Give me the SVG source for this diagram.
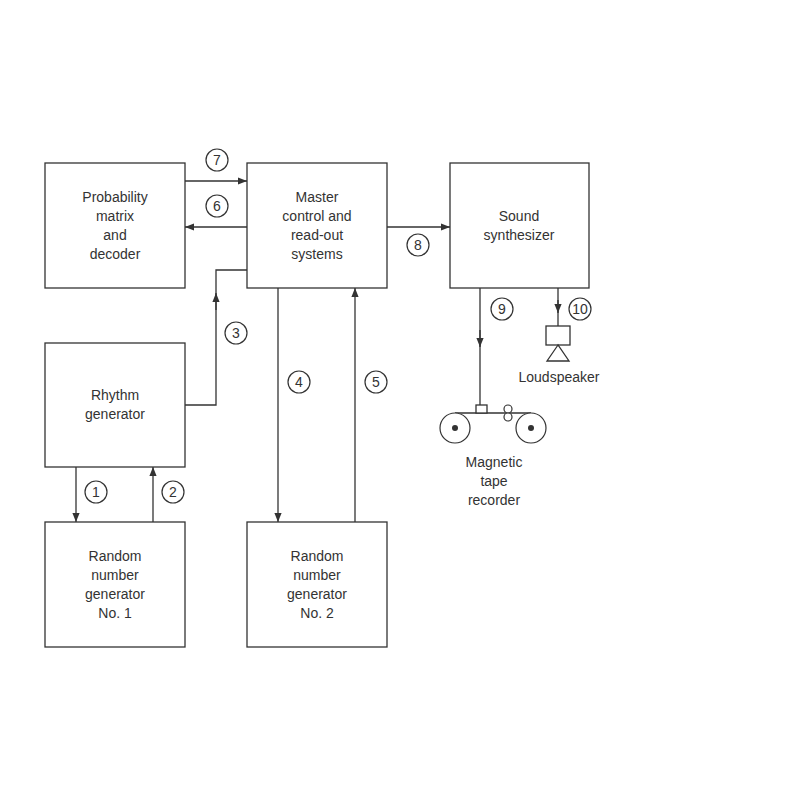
<svg xmlns="http://www.w3.org/2000/svg" width="800" height="800" viewBox="0 0 800 800">
<style>
.b{fill:#fff;stroke:#333;stroke-width:1.3}
.t{font-family:"Liberation Sans",Arial,sans-serif;font-size:14px;fill:#333;text-anchor:middle}
.c{fill:#fff;stroke:#333;stroke-width:1.2}
.l{fill:none;stroke:#333;stroke-width:1.3}
</style>
<defs><marker id="a" viewBox="0 0 10 10" refX="10" refY="5" markerWidth="7" markerHeight="7" orient="auto"><path d="M0,1 L10,5 L0,9z" fill="#333"/></marker></defs>
<rect width="800" height="800" fill="#fff"/>
<g id="prob"><rect class="b" x="45" y="163" width="140" height="125"/><text class="t" x="115" y="202">Probability</text><text class="t" x="115" y="221">matrix</text><text class="t" x="115" y="240">and</text><text class="t" x="115" y="259">decoder</text></g>
<g id="master"><rect class="b" x="247" y="163" width="140" height="125"/><text class="t" x="317" y="202">Master</text><text class="t" x="317" y="221">control and</text><text class="t" x="317" y="240">read-out</text><text class="t" x="317" y="259">systems</text></g>
<g id="synth"><rect class="b" x="450" y="163" width="139" height="125"/><text class="t" x="519" y="221">Sound</text><text class="t" x="519" y="240">synthesizer</text></g>
<g id="rhythm"><rect class="b" x="45" y="343" width="140" height="124"/><text class="t" x="115" y="400">Rhythm</text><text class="t" x="115" y="419">generator</text></g>
<g id="rng1"><rect class="b" x="45" y="522" width="140" height="125"/><text class="t" x="115" y="561">Random</text><text class="t" x="115" y="580">number</text><text class="t" x="115" y="599">generator</text><text class="t" x="115" y="618">No. 1</text></g>
<g id="rng2"><rect class="b" x="247" y="522" width="140" height="125"/><text class="t" x="317" y="561">Random</text><text class="t" x="317" y="580">number</text><text class="t" x="317" y="599">generator</text><text class="t" x="317" y="618">No. 2</text></g>
<g id="tape"><line class="l" x1="455" y1="413" x2="531" y2="413"/><rect class="b" x="476" y="405" width="11" height="8"/><circle class="c" cx="508" cy="409" r="4"/><circle class="c" cx="508" cy="417" r="4"/><circle class="c" cx="455" cy="428" r="15"/><circle cx="455" cy="428" r="3" fill="#333"/><circle class="c" cx="531" cy="428" r="15"/><circle cx="531" cy="428" r="3" fill="#333"/><text class="t" x="494" y="467">Magnetic</text><text class="t" x="494" y="486">tape</text><text class="t" x="494" y="505">recorder</text></g>
<g id="speaker"><rect class="b" x="546" y="326" width="24" height="19"/><path class="b" d="M558,345 L547,361 L569,361z"/><text class="t" x="559" y="382">Loudspeaker</text></g>
<g id="connectors">
<line class="l" x1="185" y1="181" x2="247" y2="181" marker-end="url(#a)"/>
<line class="l" x1="247" y1="227" x2="185" y2="227" marker-end="url(#a)"/>
<line class="l" x1="387" y1="227" x2="450" y2="227" marker-end="url(#a)"/>
<path class="l" d="M185,405 H216 V270 H247"/><line class="l" x1="216" y1="310" x2="216" y2="293" marker-end="url(#a)"/>
<line class="l" x1="278" y1="288" x2="278" y2="522" marker-end="url(#a)"/>
<line class="l" x1="355" y1="522" x2="355" y2="288" marker-end="url(#a)"/>
<line class="l" x1="76" y1="467" x2="76" y2="522" marker-end="url(#a)"/>
<line class="l" x1="153" y1="522" x2="153" y2="467" marker-end="url(#a)"/>
<line class="l" x1="480" y1="288" x2="480" y2="405"/><line class="l" x1="480" y1="330" x2="480" y2="347" marker-end="url(#a)"/>
<line class="l" x1="558" y1="288" x2="558" y2="326"/><line class="l" x1="558" y1="300" x2="558" y2="313" marker-end="url(#a)"/>
<circle class="c" cx="217" cy="160" r="11"/><text class="t" x="217" y="165">7</text>
<circle class="c" cx="217" cy="206" r="11"/><text class="t" x="217" y="211">6</text>
<circle class="c" cx="418" cy="245" r="11"/><text class="t" x="418" y="250">8</text>
<circle class="c" cx="236" cy="333" r="11"/><text class="t" x="236" y="338">3</text>
<circle class="c" cx="299" cy="382" r="11"/><text class="t" x="299" y="387">4</text>
<circle class="c" cx="376" cy="382" r="11"/><text class="t" x="376" y="387">5</text>
<circle class="c" cx="96" cy="492" r="11"/><text class="t" x="96" y="497">1</text>
<circle class="c" cx="173" cy="492" r="11"/><text class="t" x="173" y="497">2</text>
<circle class="c" cx="502" cy="309" r="11"/><text class="t" x="502" y="314">9</text>
<circle class="c" cx="580" cy="309" r="11"/><text class="t" x="580" y="314">10</text>
</g>
</svg>
